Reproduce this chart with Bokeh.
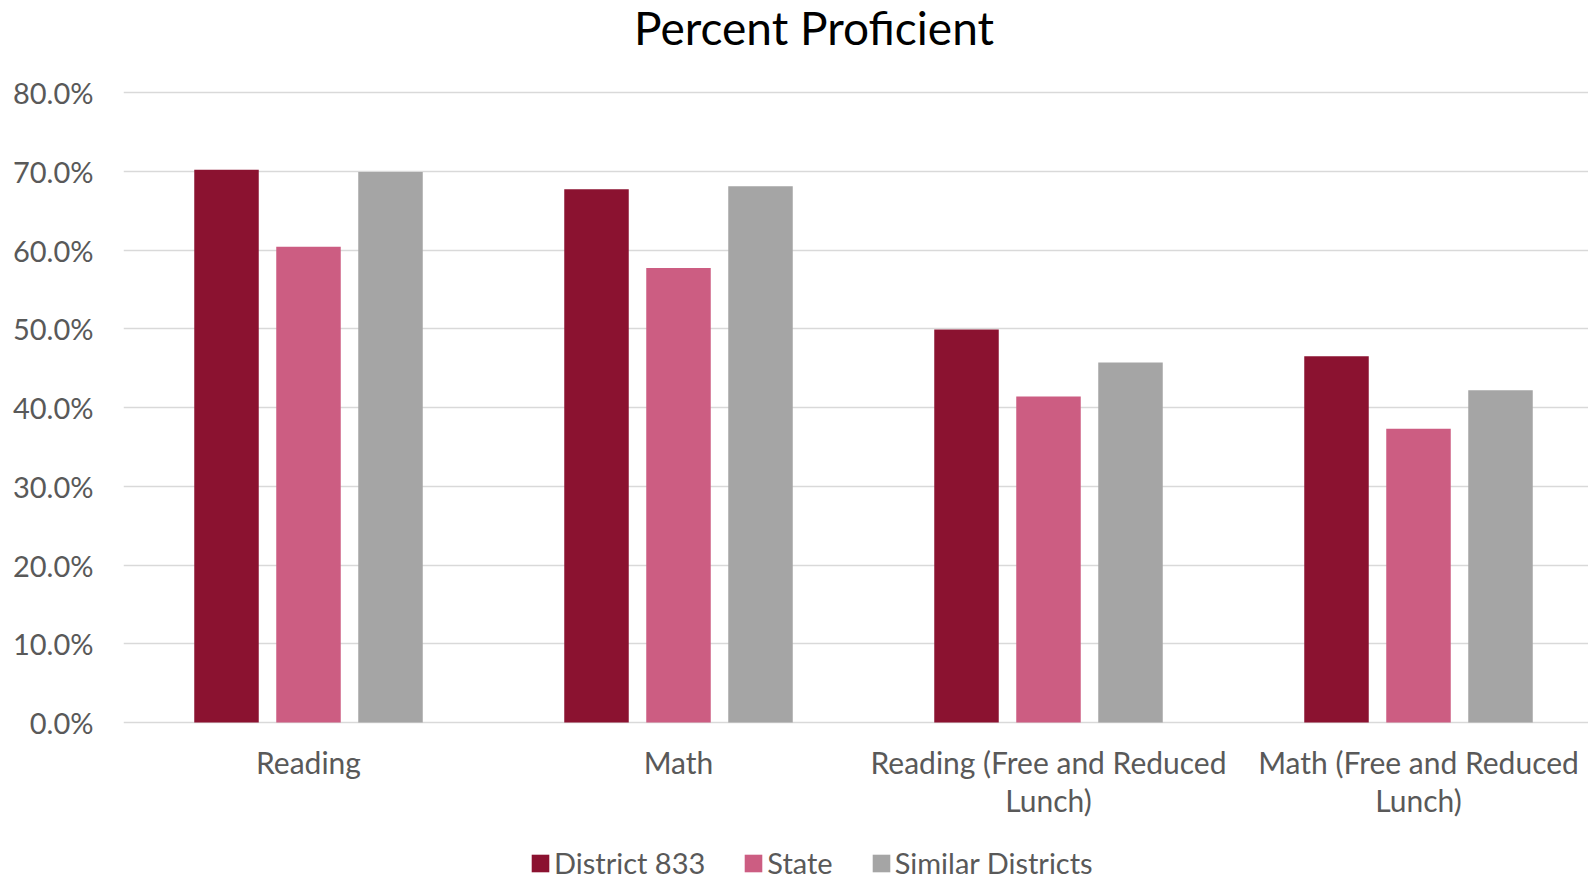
import numpy as np
from bokeh.plotting import figure
from bokeh.core.properties import value
from bokeh.models import (Range1d, FixedTicker, NumeralTickFormatter, Legend,
                          LegendItem, Label)
from bokeh.embed import file_html
from bokeh.resources import INLINE

# Percent proficient by subject group
categories = ["Reading", "Math", "Reading (Free and Reduced\nLunch)",
              "Math (Free and Reduced\nLunch)"]
district_833 = [0.702, 0.677, 0.499, 0.465]
state = [0.604, 0.577, 0.414, 0.373]
similar_districts = [0.699, 0.681, 0.457, 0.422]

series_names = ["District 833", "State", "Similar Districts"]
series_colors = ["#8B1230", "#CC5D82", "#A5A5A5"]

y_ticks = [0.0, 0.1, 0.2, 0.3, 0.4, 0.5, 0.6, 0.7, 0.8]

FONT = "Lato"
TEXT = "#595959"

W, H = 1588, 880
left = 123
cat_px = 370.0          # width of one category slot in pixels
y_top_px, y_zero_px = 92.0, 722.0   # pixel rows of the 80% and 0% lines
px_per_unit = (y_zero_px - y_top_px) / 0.8

x_end = (W - left) / cat_px
y_start = -(H - y_zero_px) / px_per_unit
y_end = 0.8 + y_top_px / px_per_unit

# the plot area fills the canvas right of the value axis; heading,
# category names and legend live inside it
p = figure(width=W, height=H, output_backend="svg", toolbar_location=None,
           title=None, x_axis_location=None,
           x_range=Range1d(0, x_end), y_range=Range1d(y_start, y_end),
           min_border_left=left, min_border_right=0,
           min_border_top=0, min_border_bottom=0)
p.outline_line_color = None
p.background_fill_color = "white"
p.border_fill_color = "white"

centers = np.arange(len(categories)) + 0.5
offset = 82.0 / cat_px
bar_w = 64.5 / cat_px

renderers = []
for i, (vals, color) in enumerate(zip([district_833, state, similar_districts],
                                      series_colors)):
    r = p.vbar(x=centers + (i - 1) * offset, top=vals, bottom=0, width=bar_w,
               fill_color=color, line_color=None)
    renderers.append(r)

# value axis
p.yaxis.ticker = FixedTicker(ticks=y_ticks)
p.yaxis.formatter = NumeralTickFormatter(format="0.0%")
p.yaxis.axis_line_color = None
p.yaxis.major_tick_line_color = None
p.yaxis.minor_tick_line_color = None
p.yaxis.major_label_text_font = FONT
p.yaxis.major_label_text_font_size = "29px"
p.yaxis.major_label_text_color = TEXT
p.yaxis.major_label_standoff = 24

p.xgrid.grid_line_color = None
p.ygrid.grid_line_color = "#D9D9D9"
p.ygrid.grid_line_width = 1.5

# category names under the baseline, wrapped onto two lines where needed
first_lines = [c.split("\n")[0] for c in categories]
second_lines = [c.split("\n")[1] if "\n" in c else "" for c in categories]
zeros = [0.0] * len(categories)
for lines, dy in ((first_lines, 39), (second_lines, 77)):
    p.text(x=centers, y=zeros, text=lines, y_offset=dy,
           text_align="center", text_baseline="alphabetic",
           text_font=value(FONT), text_font_size="30px", text_color=TEXT)

# heading
heading = Label(x=813.5 - left, y=H - 26.7, x_units="screen", y_units="screen",
                text="Percent Proficient", text_font=FONT,
                text_font_size="46px", text_color="black",
                text_align="center", text_baseline="alphabetic")
p.add_layout(heading)

legend = Legend(items=[LegendItem(label=n, renderers=[r])
                       for n, r in zip(series_names, renderers)],
                orientation="horizontal", location=(406, 0),
                padding=0, margin=0, border_line_color=None,
                background_fill_alpha=0,
                glyph_width=22, glyph_height=22, label_standoff=3,
                spacing=37, label_text_font=FONT,
                label_text_font_size="29px", label_text_color=TEXT)
p.add_layout(legend, "center")

open("out.html", "w").write(file_html(p, INLINE))
